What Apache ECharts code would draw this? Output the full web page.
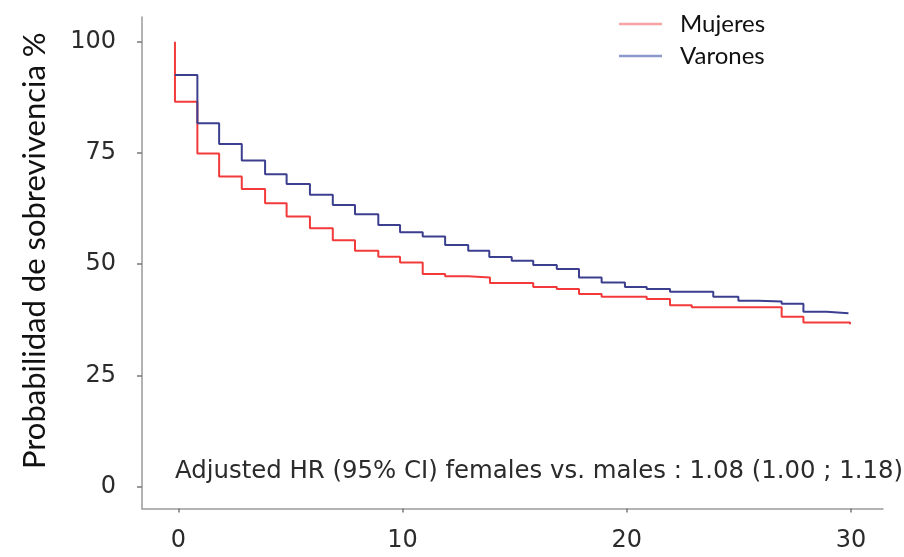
<!DOCTYPE html>
<html>
<head>
<meta charset="utf-8">
<script src="https://cdn.jsdelivr.net/npm/echarts@6/dist/echarts.min.js"></script>
<style>
html,body{margin:0;padding:0;background:#fff;}
#chart{width:904px;height:557px;}
</style>
</head>
<body>
<div id="chart"></div>
<script>
// Kaplan-Meier step data (time, survival %)
const seriesNames = ['Mujeres', 'Varones'];
const mujeresTimes = [-0.15, -0.15, 0.85, 1.82, 2.83, 3.87, 4.83, 5.87, 6.89, 7.88, 8.92, 9.89, 10.9, 11.9, 12.93, 13.9, 15.83, 16.88, 17.87, 18.88, 20.89, 21.93, 22.9, 26.91, 27.88, 29.96];
const mujeresSurv  = [100, 86.5, 74.9, 69.7, 66.9, 63.7, 60.7, 58.1, 55.4, 53.0, 51.7, 50.4, 47.8, 47.3, 47.0, 45.8, 44.9, 44.4, 43.3, 42.7, 42.2, 40.8, 40.3, 38.2, 36.9, 36.5];
const varonesTimes = [-0.15, 0.85, 1.82, 2.83, 3.87, 4.83, 5.87, 6.89, 7.88, 8.92, 9.89, 10.9, 11.9, 12.93, 13.87, 14.87, 15.83, 16.88, 17.87, 18.88, 19.92, 20.89, 21.93, 23.86, 24.98, 25.87, 26.91, 27.88, 28.92, 29.89];
const varonesSurv  = [92.5, 81.7, 77.0, 73.3, 70.2, 68.0, 65.6, 63.3, 61.2, 58.8, 57.2, 56.2, 54.3, 53.0, 51.6, 50.8, 49.8, 48.9, 47.0, 45.9, 44.9, 44.4, 43.8, 42.7, 41.8, 41.6, 41.1, 39.3, 39.0, 39.0];
const xTicks = [0, 10, 20, 30];
const yTicks = [0, 25, 50, 75, 100];
const yTitle = 'Probabilidad de sobrevivencia %';
const note = 'Adjusted HR (95% CI) females vs. males : 1.08 (1.00 ; 1.18)';

const zip = (t, v) => t.map((x, i) => [x, v[i]]);

const chart = echarts.init(document.getElementById('chart'), null, {renderer: 'canvas'});
const axisGrey = '#9a9a9a';
const labelFont = 'DejaVu Sans';

chart.setOption({
  animation: false,
  backgroundColor: '#fff',
  grid: {left: 142, right: 21, top: 17, bottom: 48.5, containLabel: false},
  legend: {
    orient: 'vertical',
    left: 614,
    top: 7,
    icon: 'rect',
    itemWidth: 43,
    itemHeight: 2.5,
    itemGap: 8,
    textStyle: {fontFamily: 'Lato', fontSize: 24, color: '#111', lineHeight: 24, padding: [0, 0, 0, 13]},
    data: [
      {name: seriesNames[0], itemStyle: {color: '#f6a3a3'}},
      {name: seriesNames[1], itemStyle: {color: '#8d98cc'}}
    ]
  },
  xAxis: {
    type: 'value',
    min: -1.62,
    max: 31.43,
    splitLine: {show: false},
    axisLine: {show: true, onZero: false, lineStyle: {color: axisGrey, width: 1.5}},
    axisTick: {show: true, length: 4, customValues: xTicks, lineStyle: {color: '#777', width: 1.5}},
    axisLabel: {customValues: xTicks, margin: 20, fontFamily: labelFont, fontSize: 24, color: '#2b2b2b'}
  },
  yAxis: {
    type: 'value',
    min: -4.9,
    max: 105.55,
    name: yTitle,
    nameLocation: 'middle',
    nameGap: 92,
    nameTextStyle: {fontFamily: 'Lato', fontSize: 31, color: '#111', padding: [0, 0, 0, 24]},
    splitLine: {show: false},
    axisLine: {show: true, onZero: false, lineStyle: {color: axisGrey, width: 1.5}},
    axisTick: {show: true, length: 5, customValues: yTicks, lineStyle: {color: '#777', width: 1.5}},
    axisLabel: {customValues: yTicks, margin: 26, fontFamily: labelFont, fontSize: 24, color: '#2b2b2b'}
  },
  graphic: [{
    type: 'text',
    left: 175,
    top: 460,
    silent: true,
    style: {text: note, fontFamily: labelFont, fontSize: 24.4, fill: '#2b2b2b'}
  }],
  series: [
    {
      name: seriesNames[0],
      type: 'line',
      step: 'end',
      symbol: 'none',
      lineStyle: {color: '#f23a3a', width: 2},
      itemStyle: {color: '#f23a3a'},
      data: zip(mujeresTimes, mujeresSurv)
    },
    {
      name: seriesNames[1],
      type: 'line',
      step: 'end',
      symbol: 'none',
      lineStyle: {color: '#3b3f8e', width: 2},
      itemStyle: {color: '#3b3f8e'},
      data: zip(varonesTimes, varonesSurv)
    }
  ]
});
</script>
</body>
</html>
